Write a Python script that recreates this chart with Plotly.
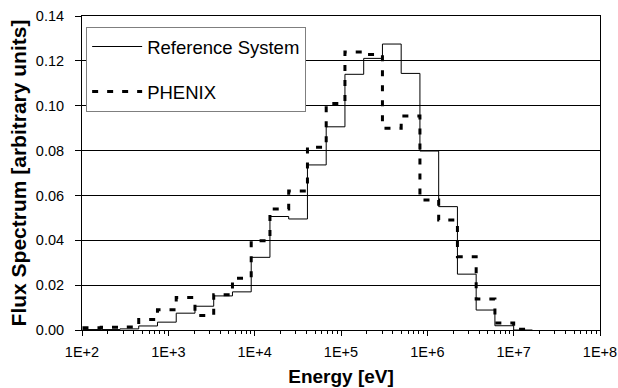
import plotly.graph_objects as go

# Energy group boundaries [eV] (ascending)
energy_bounds = [101.3, 167.0, 275.4, 454.0, 748.5, 1234.1, 2034.7, 3354.6,
                 5530.8, 9118.8, 15034.0, 24788.0, 40868.0, 67379.0, 111090.0,
                 183160.0, 301970.0, 497870.0, 820850.0, 1353400.0, 2231300.0,
                 3678800.0, 6065300.0, 10000000.0, 16487000.0]

# Flux per group (arbitrary units)
reference_flux = [0.0002, 0.0002, 0.0005, 0.0018, 0.0035, 0.0075, 0.0106, 0.0152,
                  0.0170, 0.0324, 0.0506, 0.0495, 0.0736, 0.0906, 0.1140, 0.1211,
                  0.1275, 0.1144, 0.0798, 0.0550, 0.0249, 0.0089, 0.0019, 0.0]
phenix_flux = [0.0010, 0.0012, 0.0013, 0.0047, 0.0090, 0.0145, 0.0065, 0.0157,
               0.0231, 0.0398, 0.0540, 0.0620, 0.0815, 0.1010, 0.1240, 0.1228,
               0.0900, 0.0954, 0.0580, 0.0490, 0.0327, 0.0138, 0.0031, 0.0003]

x_tick_vals = [1e2, 1e3, 1e4, 1e5, 1e6, 1e7, 1e8]
x_tick_text = ["1E+2", "1E+3", "1E+4", "1E+5", "1E+6", "1E+7", "1E+8"]
y_tick_vals = [0.0, 0.02, 0.04, 0.06, 0.08, 0.10, 0.12, 0.14]

FONT = "Liberation Sans, Arial, sans-serif"

fig = go.Figure()
fig.add_trace(go.Scatter(
    x=energy_bounds, y=reference_flux + [reference_flux[-1]],
    mode="lines", line=dict(shape="hv", color="black", width=1),
    name="Reference System", legendgroup="a"))
fig.add_trace(go.Scatter(
    x=energy_bounds, y=phenix_flux + [phenix_flux[-1]],
    mode="lines", line=dict(shape="hv", color="black", width=3, dash="6px,9px"),
    name="PHENIX", legendgroup="b"))

fig.update_layout(
    width=618, height=388,
    margin=dict(l=82, r=18, t=16, b=58),
    paper_bgcolor="white", plot_bgcolor="white",
    font=dict(family=FONT, color="black", size=14),
    showlegend=True,
    legend=dict(x=0.008, y=0.965, xanchor="left", yanchor="top",
                bgcolor="white", bordercolor="#7f7f7f", borderwidth=1,
                font=dict(size=18.5, family=FONT), tracegroupgap=18,
                itemwidth=50),
    xaxis=dict(type="log", range=[2, 8], tickvals=x_tick_vals, ticktext=x_tick_text,
               showgrid=False, showline=True, linecolor="black", linewidth=1,
               mirror=True, ticks="outside", ticklen=5, tickcolor="black",
               tickfont=dict(size=14.5), ticklabelstandoff=4,
               minor=dict(ticks="outside", ticklen=3, tickcolor="black", dtick="D1", showgrid=False),
               title=dict(text="<b>Energy [eV]</b>", font=dict(size=19), standoff=10),
               automargin=False),
    yaxis=dict(range=[0, 0.14], tickvals=y_tick_vals, tickformat=".2f",
               showgrid=True, gridcolor="black", gridwidth=1,
               showline=True, linecolor="black", linewidth=1, mirror=True,
               ticks="outside", ticklen=6, tickcolor="black",
               tickfont=dict(size=14.5), ticklabelstandoff=8, zeroline=False,
               title=dict(text="<b>Flux Spectrum [arbitrary units]</b>", font=dict(size=21), standoff=3),
               automargin=False),
)

fig.write_html("out.html")
